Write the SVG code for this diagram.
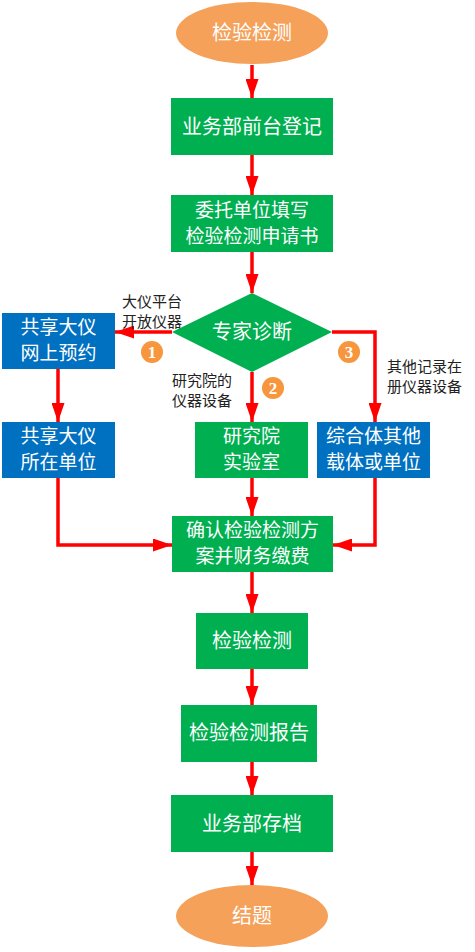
<svg xmlns="http://www.w3.org/2000/svg" width="475" height="952" viewBox="0 0 475 952">
<defs>
<marker id="ah" markerUnits="userSpaceOnUse" markerWidth="19" markerHeight="13" refX="19" refY="6.5" orient="auto">
<path d="M0,0 L19,6.5 L0,13 Z" fill="#FF0000"/>
</marker>
<style>
.g{fill:#00B050;}
.b{fill:#0070C0;}
.o{fill:#F5A15A;}
.t{font-family:"Noto Sans CJK SC","Liberation Sans",sans-serif;font-size:20px;fill:#FFFFFF;text-anchor:middle;}
.t2{font-family:"Noto Sans CJK SC","Liberation Sans",sans-serif;font-size:19px;fill:#FFFFFF;text-anchor:middle;}
.l{font-family:"Noto Sans CJK SC","Liberation Sans",sans-serif;font-size:15px;fill:#222222;}
.c{fill:#F7963C;}
.n{font-family:"Liberation Serif",serif;font-weight:bold;font-size:17px;fill:#FFFFFF;text-anchor:middle;}
.e{fill:none;stroke:#FF0000;stroke-width:3.5;marker-end:url(#ah);}
</style>
</defs>
<rect width="475" height="952" fill="#FFFFFF"/>
<g id="connectors">
<path class="e" d="M252,65 L252,98"/>
<path class="e" d="M252,155 L252,195"/>
<path class="e" d="M252,252 L252,293"/>
<path class="e" d="M172,332 L115,332"/>
<path class="e" d="M252,372 L252,422"/>
<path class="e" d="M332,332 L375,332 L375,422"/>
<path class="e" d="M58,369 L58,422"/>
<path class="e" d="M58,478 L58,545 L172,545"/>
<path class="e" d="M252,478 L252,516"/>
<path class="e" d="M375,478 L375,545 L333,545"/>
<path class="e" d="M252,572 L252,613"/>
<path class="e" d="M252,669 L252,705"/>
<path class="e" d="M252,762 L252,795"/>
<path class="e" d="M252,852 L252,885"/>
</g>
<g id="start">
<ellipse class="o" cx="252" cy="33" rx="76" ry="31"/>
<text class="t" x="252" y="40">检验检测</text>
</g>
<g id="register">
<rect class="g" x="171" y="98" width="162" height="57"/>
<text class="t" x="252" y="134">业务部前台登记</text>
</g>
<g id="apply">
<rect class="g" x="171" y="195" width="162" height="57"/>
<text class="t2" x="252" y="217">委托单位填写</text>
<text class="t2" x="252" y="243">检验检测申请书</text>
</g>
<g id="diagnose">
<polygon class="g" points="252,293 332,332 252,372 172,332"/>
<text class="t" x="252" y="339">专家诊断</text>
</g>
<g id="share-online">
<rect class="b" x="2" y="313" width="113" height="56"/>
<text class="t2" x="58.5" y="334">共享大仪</text>
<text class="t2" x="58.5" y="360">网上预约</text>
</g>
<g id="share-unit">
<rect class="b" x="2" y="422" width="113" height="56"/>
<text class="t2" x="58.5" y="443">共享大仪</text>
<text class="t2" x="58.5" y="469">所在单位</text>
</g>
<g id="lab">
<rect class="g" x="195" y="422" width="113" height="56"/>
<text class="t2" x="251.5" y="443">研究院</text>
<text class="t2" x="251.5" y="469">实验室</text>
</g>
<g id="other">
<rect class="b" x="317" y="422" width="113" height="56"/>
<text class="t2" x="373.5" y="443">综合体其他</text>
<text class="t2" x="373.5" y="469">载体或单位</text>
</g>
<g id="confirm">
<rect class="g" x="172" y="516" width="161" height="56"/>
<text class="t2" x="252.5" y="537">确认检验检测方</text>
<text class="t2" x="252.5" y="563">案并财务缴费</text>
</g>
<g id="test">
<rect class="g" x="196" y="613" width="112" height="56"/>
<text class="t" x="252" y="648">检验检测</text>
</g>
<g id="report">
<rect class="g" x="181" y="705" width="136" height="57"/>
<text class="t" x="249" y="740">检验检测报告</text>
</g>
<g id="archive">
<rect class="g" x="171" y="795" width="162" height="57"/>
<text class="t" x="252" y="831">业务部存档</text>
</g>
<g id="end">
<ellipse class="o" cx="252" cy="916" rx="76" ry="31"/>
<text class="t" x="252" y="923">结题</text>
</g>
<g id="labels">
<text class="l" x="122" y="307">大仪平台</text>
<text class="l" x="122" y="327">开放仪器</text>
<text class="l" x="172" y="386">研究院的</text>
<text class="l" x="172" y="406">仪器设备</text>
<text class="l" x="387" y="372">其他记录在</text>
<text class="l" x="387" y="392">册仪器设备</text>
</g>
<g id="badges">
<circle class="c" cx="152" cy="352" r="11"/>
<text class="n" x="152" y="358">1</text>
<circle class="c" cx="273" cy="388" r="11"/>
<text class="n" x="273" y="394">2</text>
<circle class="c" cx="349" cy="352" r="11"/>
<text class="n" x="349" y="358">3</text>
</g>
</svg>
